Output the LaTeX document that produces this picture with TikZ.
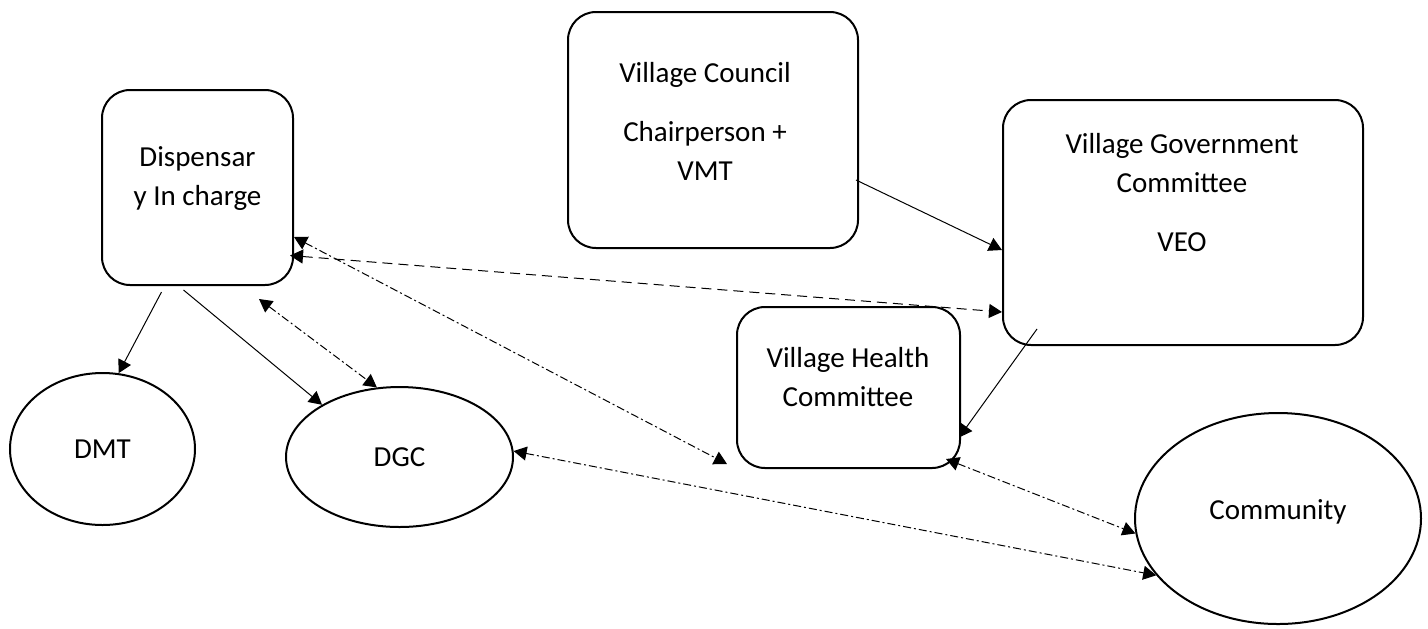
\documentclass[tikz,border=0pt]{standalone}
\usepackage{fontspec}
\setmainfont{Carlito}
\usetikzlibrary{arrows.meta,shapes.geometric}

\begin{document}
\begin{tikzpicture}[
        x=0.5pt, y=-0.5pt,
        >={Triangle[length=6.5pt,width=7pt]},
        every node/.style={font=\fontsize{14.5}{19.5}\selectfont},
        block/.style={draw, rounded corners=14pt, line width=1pt, inner sep=0pt},
        blocktext/.style={align=center, inner sep=0pt},
        oval/.style={ellipse, draw, line width=1pt, inner sep=0pt},
        link/.style={->, line width=0.5pt},
        dashline/.style={<->, line width=0.5pt, dash pattern=on 5pt off 3pt},
        dashdot/.style={<->, line width=0.5pt, dash pattern=on 4pt off 1.5pt on 1pt off 1.5pt}
    ]

        \useasboundingbox (0,0) rectangle (1428,628);

        % ==================================================
        % CAIXAS
        % ==================================================

        \node[block, minimum width=95.5pt, minimum height=97.5pt] (disp) at (197.5,187.5) {};
        \node[blocktext] (disp-text) at (197.5,179) {Dispensar\\y In charge};

        \node[block, minimum width=145pt, minimum height=118pt] (vc) at (713,130) {};
        \node[blocktext] (vc-text) at (705,121.5) {Village Council\\[10pt]Chairperson +\\VMT};

        \node[block, minimum width=180pt, minimum height=122.5pt] (vgc) at (1183,222.5) {};
        \node[blocktext] (vgc-text) at (1182,193) {Village Government\\Committee\\[10pt]VEO};

        \node[block, minimum width=111.5pt, minimum height=80.5pt] (vhc) at (848.5,387.5) {};
        \node[blocktext] (vhc-text) at (848,377.5) {Village Health\\Committee};

        % ==================================================
        % ELIPSES
        % ==================================================

        \node[oval, minimum width=92.5pt, minimum height=76pt]    (dmt)  at (102.5,449)  {DMT};
        \node[oval, minimum width=113.5pt, minimum height=70pt]   (dgc)  at (399.5,457)  {DGC};
        \node[oval, minimum width=143pt, minimum height=105.5pt]  (comm) at (1278,518.5) {};
        \node (comm-text) at (1278,512) {Community};

        % Setas
        \draw[link] ([xshift=-18pt,yshift=-3pt]disp.south) -- (dmt.78);
        \draw[link] ([xshift=-7pt,yshift=-2pt]disp.south) -- (dgc.146);
        \draw[link] ([xshift=-1.5pt,yshift=-25pt]vc.east) -- ([yshift=-13.75pt]vgc.west);
        \draw[link] ([xshift=17.5pt,yshift=8.5pt]vgc.south west) -- ([xshift=-1pt,yshift=-25pt]vhc.east);

        % Ligacoes nos dois sentidos
        \draw[dashdot]  ([xshift=30.75pt,yshift=-6.5pt]disp.south) -- (dgc.108);
        \draw[dashline] ([xshift=-2pt,yshift=-34pt]disp.east) -- ([yshift=-44.75pt]vgc.west);
        \draw[dashdot]  ([yshift=-24.75pt]disp.east) -- ([xshift=-4.5pt,yshift=2.5pt]vhc.south west);
        \draw[dashdot]  ([xshift=-7.5pt,yshift=5pt]vhc.south east) -- (comm.186);
        \draw[dashdot]  (dgc.3) -- (comm.205);
    \end{tikzpicture}
\end{document}
